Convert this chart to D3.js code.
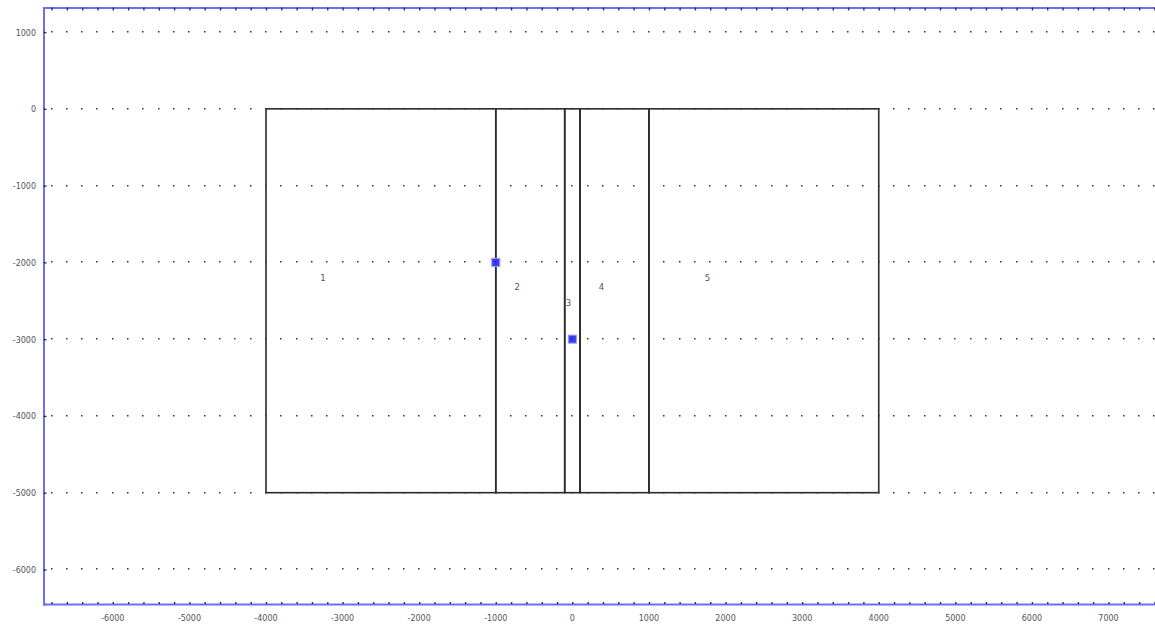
<!DOCTYPE html>
<html>
<head>
<meta charset="utf-8">
<script src="https://cdn.jsdelivr.net/npm/d3@7"></script>
<style>
  html, body { margin: 0; padding: 0; background: #fff; }
  svg { display: block; }
  text { font-family: "DejaVu Sans", sans-serif; }
</style>
</head>
<body>
<svg id="chart" width="1155" height="630"></svg>
<script>
// ---- data ----
const domainX0 = [-4000, -1000, -100, 100, 1000];
const domainX1 = [-1000, -100, 100, 1000, 4000];
const domainY0 = [0, 0, 0, 0, 0];
const domainY1 = [-5000, -5000, -5000, -5000, -5000];
const domainLabels = ["1", "2", "3", "4", "5"];
const labelX = [-3255, -720, -50, 380, 1765];
const labelY = [-2200, -2320, -2530, -2320, -2200];
const pointX = [-1000, 0];
const pointY = [-2000, -3000];
const xTickLabels = [-6000, -5000, -4000, -3000, -2000, -1000, 0, 1000, 2000, 3000, 4000, 5000, 6000, 7000];
const yTickLabels = [1000, 0, -1000, -2000, -3000, -4000, -5000, -6000];
const xMinorTicks = d3.range(-6800, 7601, 200);

// ---- layout ----
const W = 1155, H = 630;
const padLeft = 43.5, padTop = 7.5, padBottom = 604;
const x = d3.scaleLinear().domain([-6905, 7607]).range([padLeft, W]);
const y = d3.scaleLinear().domain([1320, -6450]).range([padTop, padBottom]);

const svg = d3.select("#chart");

// domain boundaries
const gLines = svg.append("g");
domainX0.forEach((x0, i) => {
  gLines.append("rect")
    .attr("x", x(x0))
    .attr("y", y(domainY0[i]))
    .attr("width", x(domainX1[i]) - x(x0))
    .attr("height", y(domainY1[i]) - y(domainY0[i]))
    .attr("fill", "none")
    .attr("stroke", "#2a2a2a")
    .attr("stroke-width", 1.6);
});

// points
svg.append("g").selectAll("rect")
  .data(pointX.map((px, i) => [px, pointY[i]]))
  .join("rect")
  .attr("x", d => x(d[0]) - 4)
  .attr("y", d => y(d[1]) - 4)
  .attr("width", 8).attr("height", 8)
  .attr("fill", "#3b3bf5")
  .attr("stroke", "#9a9aff")
  .attr("stroke-width", 1);

// grid dots on top
const dotData = [];
yTickLabels.forEach(yv => xMinorTicks.forEach(xv => dotData.push([xv, yv])));
svg.append("g").selectAll("rect")
  .data(dotData)
  .join("rect")
  .attr("x", d => Math.round(x(d[0])) - 1)
  .attr("y", d => Math.round(y(d[1])) - 1)
  .attr("width", 1.5).attr("height", 1.5)
  .attr("fill", "#333");

// domain labels
svg.append("g").selectAll("text")
  .data(domainLabels)
  .join("text")
  .attr("x", (d, i) => x(labelX[i]))
  .attr("y", (d, i) => y(labelY[i]))
  .attr("text-anchor", "middle")
  .attr("dominant-baseline", "central")
  .attr("font-size", 8.5)
  .attr("fill", "#555")
  .text(d => d);

// axes
const axisColor = "#6e6ef5";
const gA = svg.append("g");
// top axis
const topAxis = d3.axisBottom(x).tickValues(xMinorTicks).tickSize(3).tickFormat("");
gA.append("g").attr("transform", `translate(0,${padTop})`).call(topAxis)
  .call(g => g.select(".domain").attr("stroke", axisColor).attr("stroke-width", 2))
  .call(g => g.selectAll(".tick line").attr("stroke", "#333").attr("stroke-width", 1.4));
// bottom axis
const botAxis = d3.axisTop(x).tickValues(xMinorTicks).tickSize(2).tickFormat("");
gA.append("g").attr("transform", `translate(0,${padBottom})`).call(botAxis)
  .call(g => g.select(".domain").attr("stroke", axisColor).attr("stroke-width", 2))
  .call(g => g.selectAll(".tick line").attr("stroke", "#333").attr("stroke-width", 1.4));
// bottom labels
gA.append("g").selectAll("text")
  .data(xTickLabels)
  .join("text")
  .attr("x", d => x(d))
  .attr("y", 618)
  .attr("text-anchor", "middle")
  .attr("dominant-baseline", "central")
  .attr("font-size", 8)
  .attr("fill", "#555")
  .text(d => d);
// left axis
const leftAxis = d3.axisRight(y).tickValues(yTickLabels).tickSize(3).tickFormat("");
gA.append("g").attr("transform", `translate(${padLeft},0)`).call(leftAxis)
  .call(g => g.select(".domain").attr("stroke", axisColor).attr("stroke-width", 2))
  .call(g => g.selectAll(".tick line").attr("stroke", "#333").attr("stroke-width", 1.4));
gA.append("g").selectAll("text")
  .data(yTickLabels)
  .join("text")
  .attr("x", 36)
  .attr("y", d => y(d) + 1)
  .attr("text-anchor", "end")
  .attr("dominant-baseline", "central")
  .attr("font-size", 8)
  .attr("fill", "#555")
  .text(d => d);
</script>
</body>
</html>
